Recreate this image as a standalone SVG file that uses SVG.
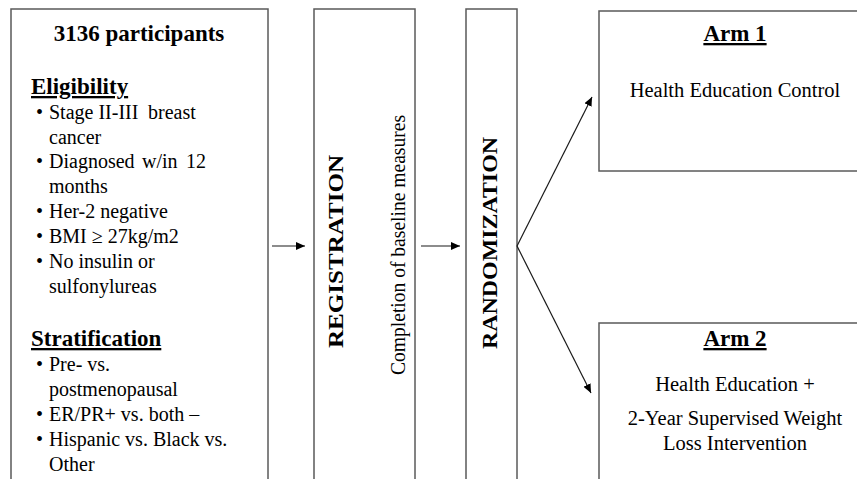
<svg xmlns="http://www.w3.org/2000/svg" width="857" height="479" viewBox="0 0 857 479" font-family="Liberation Serif, Times New Roman, DejaVu Serif, serif">
<style>
.box{fill:#fff;stroke:#5a5a5a;stroke-width:1.5}
text{font-family:'Liberation Serif','Times New Roman','DejaVu Serif',serif;fill:#000}
.b{font-size:20px}
.h{font-size:23px;font-weight:bold}
.u{text-decoration:underline}
.c{text-anchor:middle}
.ln{stroke:#1a1a1a;stroke-width:1.2;fill:none}
</style>
<defs>
<marker id="ah" markerUnits="userSpaceOnUse" markerWidth="10" markerHeight="8" refX="9" refY="4" orient="auto">
<path d="M0,0 L9,4 L0,8 z" fill="#000"/>
</marker>
</defs>
<rect width="857" height="479" fill="#fff"/>
<g id="participants">
<rect class="box" x="11" y="9" width="257" height="480"/>
<text class="h c" x="139" y="41">3136 participants</text>
<text class="h u" x="31" y="94">Eligibility</text>
<g class="b">
<text x="36" y="119">•</text><text x="49" y="119">Stage II-III</text><text x="148" y="119">breast</text>
<text x="49" y="143.5">cancer</text>
<text x="36" y="168">•</text><text x="49" y="168">Diagnosed</text><text x="142" y="168">w/in</text><text x="186" y="168">12</text>
<text x="49" y="193">months</text>
<text x="36" y="218">•</text><text x="49" y="218">Her-2 negative</text>
<text x="36" y="243">•</text><text x="49" y="243">BMI ≥ 27kg/m2</text>
<text x="36" y="268">•</text><text x="49" y="268">No insulin or</text>
<text x="49" y="293">sulfonylureas</text>
</g>
<text class="h u" x="31" y="346">Stratification</text>
<g class="b">
<text x="36" y="371">•</text><text x="49" y="371">Pre- vs.</text>
<text x="49" y="396">postmenopausal</text>
<text x="36" y="421">•</text><text x="49" y="421">ER/PR+ vs. both –</text>
<text x="36" y="446">•</text><text x="49" y="446">Hispanic vs. Black vs.</text>
<text x="49" y="471">Other</text>
</g>
</g>
<g id="registration">
<rect class="box" x="314" y="9" width="101" height="480"/>
<text font-size="20" font-weight="bold" text-anchor="middle" transform="translate(343,251.5) rotate(-90)" textLength="193" lengthAdjust="spacingAndGlyphs">REGISTRATION</text>
<text font-size="20.5" text-anchor="middle" transform="translate(404.5,245) rotate(-90)" textLength="260" lengthAdjust="spacingAndGlyphs">Completion of baseline measures</text>
</g>
<g id="randomization">
<rect class="box" x="466" y="9" width="51" height="480"/>
<text font-size="22" font-weight="bold" text-anchor="middle" transform="translate(497,243) rotate(-90)" textLength="212" lengthAdjust="spacingAndGlyphs">RANDOMIZATION</text>
</g>
<g id="arm1">
<rect class="box" x="599" y="11" width="270" height="160"/>
<text class="h u c" x="735" y="41">Arm 1</text>
<text class="c" font-size="20.5" x="735" y="97">Health Education Control</text>
</g>
<g id="arm2">
<rect class="box" x="599" y="323" width="270" height="170"/>
<text class="h u c" x="735" y="346">Arm 2</text>
<text class="c" font-size="20.5" x="735" y="391">Health Education +</text>
<text class="c" font-size="20.5" x="735" y="425">2-Year Supervised Weight</text>
<text class="c" font-size="20.5" x="735" y="450">Loss Intervention</text>
</g>
<g id="connectors">
<line class="ln" x1="272" y1="246" x2="305" y2="246" marker-end="url(#ah)"/>
<line class="ln" x1="421" y1="246" x2="460" y2="246" marker-end="url(#ah)"/>
<line class="ln" x1="517" y1="246" x2="592" y2="97" marker-end="url(#ah)"/>
<line class="ln" x1="517" y1="246" x2="591" y2="393" marker-end="url(#ah)"/>
</g>
</svg>
